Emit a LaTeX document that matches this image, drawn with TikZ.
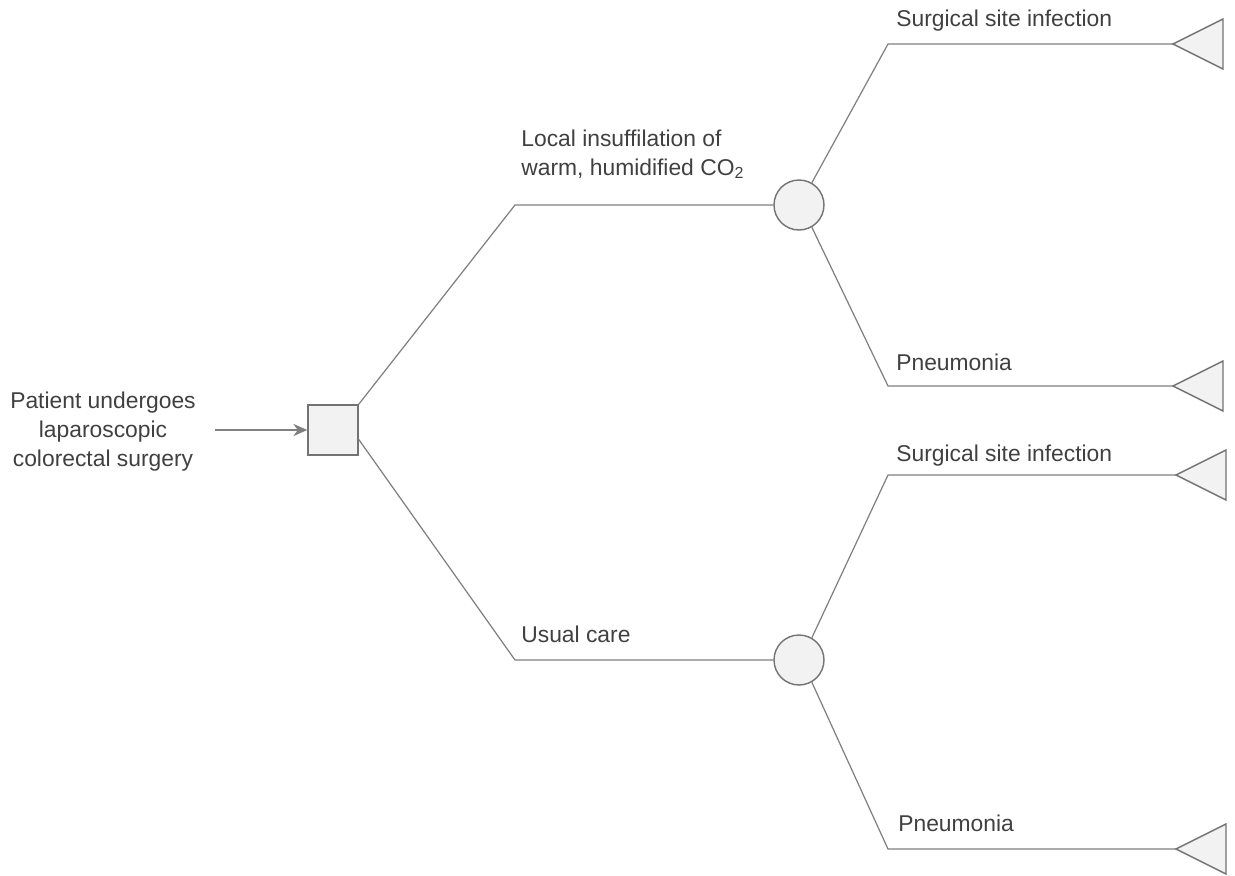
\documentclass[tikz,border=0pt]{standalone}
\usepackage{fontspec}
\setmainfont{Liberation Sans}
\usetikzlibrary{arrows.meta}

\begin{document}
\begin{tikzpicture}
        [
          x=0.02cm, y=-0.02cm,
          every node/.style={font=\fontsize{13}{16.5}\selectfont, text=black!75},
          branch/.style={draw=black!50, line width=0.7pt},
          decision/.style={draw=black!55, fill=black!5, minimum size=1cm, inner sep=0pt, line width=0.8pt},
          chance/.style={circle, draw=black!55, fill=black!5, minimum size=1cm, inner sep=0pt, line width=0.8pt},
          terminal/.style={draw=black!55, fill=black!5, line width=0.8pt, line join=miter},
          branchtext/.style={anchor=base west, inner sep=0pt, align=left}
        ]
        \useasboundingbox (0,0) rectangle (1235,876);

        % decision node
        \node[align=center] (patient) at (103,432) {Patient undergoes\\laparoscopic\\colorectal surgery};
        \coordinate (entry) at (215,430);
        \node[decision] (start) at (333,430) {};
        \draw[branch, -{Stealth[length=8pt, width=7pt]}] (entry) -- (start);

        % strategies
        \coordinate (warmbend) at (515,205);
        \coordinate (usualbend) at (515,660);
        \node[chance] (warm) at (799,205) {};
        \node[chance] (usual) at (799,660) {};
        \draw[branch] (start.north east) -- (warmbend) -- (warm);
        \draw[branch] (start.-20) -- (usualbend) -- (usual);
        \node[branchtext] (warmtext) at (521,175) {Local insuffilation of\\warm, humidified CO\textsubscript{2}};
        \node[branchtext] (usualtext) at (521,642) {Usual care};

        % outcomes
        \coordinate (ssiabend) at (888,44);
        \coordinate (pnabend) at (888,386);
        \coordinate (ssibbend) at (888,475);
        \coordinate (pnbbend) at (888,849);
        \coordinate (ssia) at (1173,44);
        \coordinate (pna) at (1173,386);
        \coordinate (ssib) at (1176,475);
        \coordinate (pnb) at (1176,849);
        \draw[branch] (warm.60) -- (ssiabend) -- (ssia);
        \draw[branch] (warm.-60) -- (pnabend) -- (pna);
        \draw[branch] (usual.60) -- (ssibbend) -- (ssib);
        \draw[branch] (usual.-60) -- (pnbbend) -- (pnb);
        \foreach \t in {ssia,pna,ssib,pnb}
          \draw[terminal] (\t) -- ++(50,-25) -- ++(0,50) -- cycle;
        \node[branchtext] (ssiatext) at (896,26) {Surgical site infection};
        \node[branchtext] (pnatext) at (896,370) {Pneumonia};
        \node[branchtext] (ssibtext) at (896,461) {Surgical site infection};
        \node[branchtext] (pnbtext) at (898,831) {Pneumonia};
\end{tikzpicture}
\end{document}
